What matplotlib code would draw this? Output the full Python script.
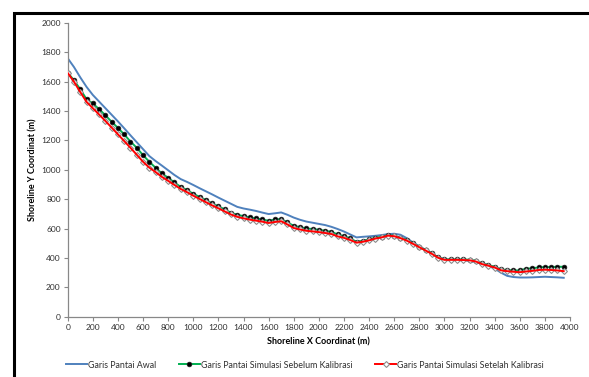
import matplotlib
matplotlib.use("Agg")
import matplotlib.pyplot as plt
from matplotlib.lines import Line2D
import numpy as np

plt.rcParams['font.family'] = ['Lato', 'DejaVu Sans']

x_m = list(range(0, 4000, 50))

awal = [1760, 1700, 1630, 1565, 1510, 1465, 1420, 1375, 1330, 1283,
        1235, 1188, 1141, 1094, 1060, 1029, 997, 965, 937, 918,
        897, 875, 854, 833, 811, 790, 769, 748, 737, 729,
        720, 709, 699, 704, 710, 694, 675, 660, 648, 640,
        632, 624, 612, 597, 580, 560, 540, 544, 547, 551,
        556, 562, 565, 558, 535, 505, 480, 455, 430, 405,
        390, 388, 386, 384, 380, 372, 360, 345, 328, 300,
        278, 270, 267, 267, 268, 270, 272, 270, 268, 265]

sebelum = [1662, 1610, 1549, 1481, 1452, 1413, 1372, 1327, 1286, 1241,
           1193, 1150, 1100, 1055, 1014, 976, 946, 914, 884, 862,
           837, 816, 794, 771, 751, 731, 708, 694, 685, 676,
           669, 662, 653, 662, 665, 642, 619, 610, 601, 597,
           592, 585, 578, 560, 549, 533, 510, 517, 526, 538,
           544, 556, 551, 538, 522, 499, 476, 454, 431, 404,
           390, 390, 390, 390, 388, 381, 363, 352, 340, 322,
           318, 315, 315, 327, 329, 336, 338, 338, 340, 340]

setelah = [1660, 1600, 1530, 1463, 1420, 1377, 1333, 1288, 1242, 1196,
           1150, 1103, 1055, 1015, 985, 952, 925, 897, 870, 848,
           824, 802, 780, 758, 738, 717, 696, 680, 670, 661,
           654, 647, 638, 645, 650, 628, 604, 594, 585, 581,
           576, 570, 563, 547, 537, 522, 504, 510, 520, 532,
           540, 552, 548, 535, 518, 496, 473, 451, 428, 401,
           387, 387, 387, 386, 384, 376, 358, 347, 335, 316,
           310, 306, 303, 308, 312, 318, 320, 318, 315, 310]

labels = ["Garis Pantai Awal",
          "Garis Pantai Simulasi Sebelum Kalibrasi",
          "Garis Pantai Simulasi Setelah Kalibrasi"]

W, H = 589, 377
fig = plt.figure(figsize=(W / 100, H / 100), dpi=100)
fig.patch.set_facecolor('white')
ax = fig.add_axes([67.7 / W, 1 - 316.7 / H, (570 - 67.7) / W, (316.7 - 23) / H])

l1, = ax.plot(x_m, awal, color='#4F81BD', lw=1.4, label=labels[0], zorder=2)
l2, = ax.plot(x_m, sebelum, color='#00B050', lw=1.4, marker='o', ms=3.4,
              mfc='black', mec='#202020', mew=0.5, label=labels[1], zorder=3)
# red series: markers beneath, line on top
ax.plot(x_m, setelah, linestyle='none', marker='D', ms=3.0,
        mfc='white', mec='#8c8c8c', mew=0.8, zorder=3.5)
ax.plot(x_m, setelah, color='#FF0000', lw=1.4, zorder=4)
l3 = Line2D([], [], color='#FF0000', lw=1.4, marker='D', ms=3.0,
            mfc='white', mec='#8c8c8c', mew=0.8)

ax.set_xlim(0, 4000)
ax.set_ylim(0, 2000)
ax.set_xticks(np.arange(0, 4001, 200))
ax.set_yticks(np.arange(0, 2001, 200))
for s in ['top', 'right']:
    ax.spines[s].set_visible(False)
for s in ['left', 'bottom']:
    ax.spines[s].set_color('#888888')
    ax.spines[s].set_linewidth(0.9)
ax.tick_params(axis='both', direction='out', length=3, width=0.8, color='#888888',
               labelsize=6, labelcolor='#303030', pad=2)

ax.set_xlabel("Shoreline X Coordinat (m)", fontsize=6.5, fontweight='bold', labelpad=5)
ax.set_ylabel("Shoreline Y Coordinat (m)", fontsize=6.5, fontweight='bold', labelpad=3)

fig.legend(handles=[l1, l2, l3], labels=labels, loc='center',
           bbox_to_anchor=(305 / W, 1 - 365 / H), ncol=3, frameon=False,
           fontsize=6.4, handlelength=2.3, handletextpad=0.12, columnspacing=2.6,
           labelcolor='#303030')

# outer frame (partially visible)
fig.add_artist(Line2D([13.5 / W, 13.5 / W, 1.0], [0.0, 1 - 12.5 / H, 1 - 12.5 / H],
                      transform=fig.transFigure, color='black', lw=2.2,
                      solid_joinstyle='miter'))

fig.savefig("out.png", dpi=100)
